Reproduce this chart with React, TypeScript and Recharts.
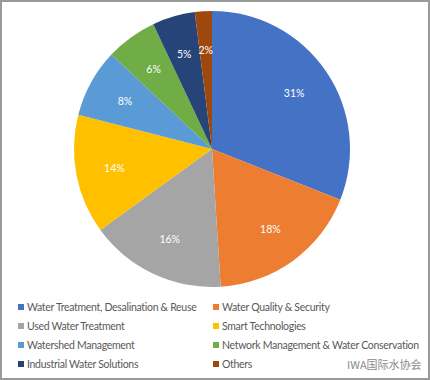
import { PieChart, Pie, Cell, Legend } from 'recharts';

const categories = [
  'Water Treatment, Desalination & Reuse',
  'Water Quality & Security',
  'Used Water Treatment',
  'Smart Technologies',
  'Watershed Management',
  'Network Management & Water Conservation',
  'Industrial Water Solutions',
  'Others',
];
const shares = [31, 18, 16, 14, 8, 6, 5, 2];
const colors = ['#4472C4', '#ED7D31', '#A5A5A5', '#FFC000', '#5B9BD5', '#70AD47', '#264478', '#9E480E'];

const data = categories.map((name, i) => ({ name, value: shares[i] }));

const RAD = Math.PI / 180;
const FONT = 'Lato, "Open Sans", sans-serif';

function renderLabel({ cx, cy, midAngle, outerRadius, value }: any) {
  const r = outerRadius * 0.72;
  const x = cx + r * Math.cos(-midAngle * RAD);
  const y = cy + r * Math.sin(-midAngle * RAD);
  return (
    <text x={x} y={y} fill="#ffffff" fontSize={10.5} fontFamily={FONT} textAnchor="middle" dominantBaseline="central">
      {value}%
    </text>
  );
}

function renderLegend() {
  return (
    <div style={{ display: 'grid', gridTemplateColumns: '195px 210px', rowGap: 4, fontFamily: FONT, fontSize: 10.5, color: '#595959' }}>
      {categories.map((name, i) => (
        <div key={name} style={{ display: 'flex', alignItems: 'center', height: 15, whiteSpace: 'nowrap' }}>
          <span style={{ width: 6, height: 6, background: colors[i], marginRight: 3, display: 'inline-block' }} />
          <span style={{ letterSpacing: -0.3 }}>{name}</span>
        </div>
      ))}
    </div>
  );
}

export default function App() {
  return (
    <div style={{ position: 'fixed', left: 0, top: 0, width: 430, height: 380, boxSizing: 'border-box', border: '2px solid #9a9a9a', background: '#fff' }}>
      <PieChart width={426} height={376}>
        <Pie
          data={data}
          dataKey="value"
          cx={205}
          cy={142}
          outerRadius={138}
          startAngle={90}
          endAngle={-270}
          stroke="none"
          label={renderLabel}
          labelLine={false}
          isAnimationActive={false}
        >
          {data.map((d, i) => (
            <Cell key={d.name} fill={colors[i]} />
          ))}
        </Pie>
        <Legend content={renderLegend} wrapperStyle={{ left: 16, top: 297, width: 410 }} />
      </PieChart>
      <div style={{ position: 'absolute', left: 345, top: 354, fontFamily: '"Noto Sans CJK SC", sans-serif', fontSize: 11, color: '#8a8a8a' }}>
        IWA国际水协会
      </div>
    </div>
  );
}
